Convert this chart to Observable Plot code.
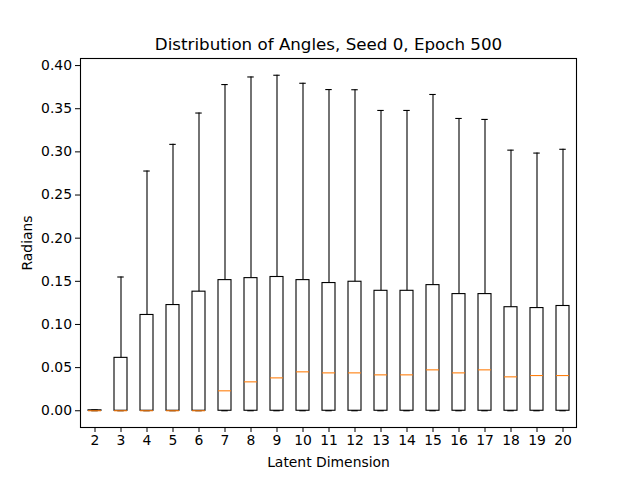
<!DOCTYPE html>
<html>
<head>
<meta charset="utf-8">
<script src="https://cdn.jsdelivr.net/npm/d3@7"></script>
<script src="https://cdn.jsdelivr.net/npm/@observablehq/plot@0.6"></script>
<style>
  html, body { margin: 0; padding: 0; background: white; }
</style>
</head>
<body>
<div id="chart"></div>
<script>
const dims = [2, 3, 4, 5, 6, 7, 8, 9, 10, 11, 12, 13, 14, 15, 16, 17, 18, 19, 20];
const q1 = [0, 0, 0, 0, 0, 0, 0, 0, 0, 0, 0, 0, 0, 0, 0, 0, 0, 0, 0];
const medians = [0, 0, 0, 0, 0, 0.0231, 0.0335, 0.0381, 0.0451, 0.0439, 0.0439, 0.0416, 0.0416, 0.0474, 0.0439, 0.0474, 0.0393, 0.0408, 0.0408];
const q3 = [0.0005, 0.0613, 0.111, 0.1225, 0.138, 0.1514, 0.1537, 0.155, 0.1514, 0.148, 0.1495, 0.139, 0.139, 0.1456, 0.1352, 0.1352, 0.120, 0.119, 0.1214];
const whiskerLow = [0, 0, 0, 0, 0, 0, 0, 0, 0, 0, 0, 0, 0, 0, 0, 0, 0, 0, 0];
const whiskerHigh = [0.001, 0.155, 0.2778, 0.3087, 0.345, 0.378, 0.3868, 0.3888, 0.3795, 0.3722, 0.372, 0.348, 0.348, 0.3665, 0.3387, 0.3376, 0.302, 0.2986, 0.303];
const yTicks = [0, 0.05, 0.10, 0.15, 0.20, 0.25, 0.30, 0.35, 0.40];
const title = "Distribution of Angles, Seed 0, Epoch 500";

const data = dims.map((d, i) => ({
  dim: String(d), q1: q1[i], median: medians[i], q3: q3[i], lo: whiskerLow[i], hi: whiskerHigh[i]
}));

const W = 640, H = 480;
const mL = 80, mR = 64, mT = 58, mB = 53;
const step = (W - mL - mR) / dims.length;
const capInset = step * 0.125;

const chart = Plot.plot({
  width: W,
  height: H,
  marginLeft: mL,
  marginRight: mR,
  marginTop: mT,
  marginBottom: mB,
  style: { fontFamily: "DejaVu Sans", fontSize: "13.9px", background: "white", color: "black" },
  x: { type: "band", domain: dims.map(String), paddingInner: 0.5, paddingOuter: 0.25, align: 0.5 },
  y: { domain: [-0.0194, 0.4082] },
  marks: [
    Plot.frame({ stroke: "black", strokeWidth: 1.1 }),
    // whiskers
    Plot.ruleX(data, { x: "dim", y1: "q3", y2: "hi", stroke: "black", strokeWidth: 1.1 }),
    Plot.ruleX(data, { x: "dim", y1: "lo", y2: "q1", stroke: "black", strokeWidth: 1.1 }),
    // caps
    Plot.tickY(data, { x: "dim", y: "hi", stroke: "black", strokeWidth: 1.1, insetLeft: capInset, insetRight: capInset }),
    Plot.tickY(data, { x: "dim", y: "lo", stroke: "black", strokeWidth: 1.1, insetLeft: capInset, insetRight: capInset }),
    // boxes
    Plot.barY(data, { x: "dim", y1: "q1", y2: "q3", fill: "none", stroke: "black", strokeWidth: 1.1 }),
    // medians
    Plot.tickY(data, { x: "dim", y: "median", stroke: "#ff7f0e", strokeWidth: 1.1 }),
    Plot.axisY({ ticks: yTicks, tickFormat: d3.format(".2f"), tickSize: 5, tickPadding: 3.5, label: "Radians", labelAnchor: "center", labelArrow: "none", labelOffset: 58 }),
    Plot.axisX({ tickSize: 5, tickPadding: 3, label: "Latent Dimension", labelAnchor: "center", labelArrow: "none", labelOffset: 39 }),
    Plot.text([title], { text: d => d, frameAnchor: "top", dy: -20, fontSize: 16.7, fill: "black" })
  ]
});

document.getElementById("chart").appendChild(chart);
</script>
</body>
</html>
